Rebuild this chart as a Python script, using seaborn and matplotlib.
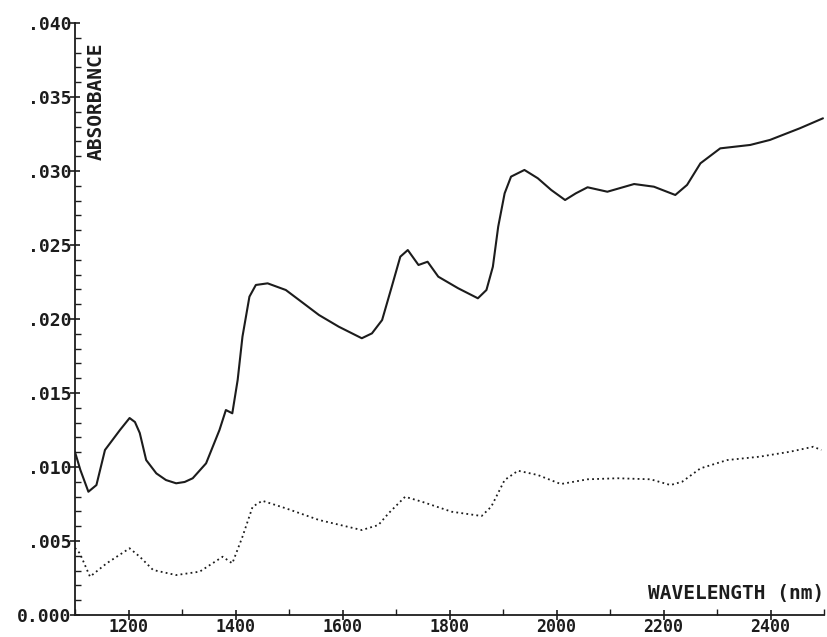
import matplotlib
matplotlib.use("Agg")
import matplotlib.pyplot as plt
from matplotlib.ticker import MultipleLocator, FuncFormatter
import numpy as np
import pandas as pd
import seaborn as sns

# Upper spectrum (solid trace)
upper_nm = [1100, 1110, 1125, 1140, 1156, 1184, 1202, 1212, 1221, 1233, 1252, 1270,
            1289, 1305, 1320, 1345, 1370, 1382, 1394, 1404, 1413, 1426, 1438, 1460,
            1494, 1519, 1556, 1593, 1636, 1655, 1674, 1692, 1708, 1722, 1742, 1759,
            1779, 1816, 1853, 1869, 1881, 1891, 1903, 1915, 1940, 1965, 1990, 2016,
            2036, 2058, 2095, 2145, 2182, 2222, 2244, 2269, 2306, 2362, 2399, 2455,
            2498]
upper_abs = [0.01101, 0.00980, 0.00833, 0.00878, 0.01115, 0.01250, 0.01331, 0.01304,
             0.01230, 0.01047, 0.00957, 0.00912, 0.00890, 0.00899, 0.00924, 0.01025,
             0.01250, 0.01385, 0.01363, 0.01588, 0.01881, 0.02151, 0.02230, 0.02241,
             0.02196, 0.02128, 0.02027, 0.01948, 0.01870, 0.01903, 0.01993, 0.02218,
             0.02421, 0.02466, 0.02365, 0.02387, 0.02286, 0.02208, 0.02140, 0.02196,
             0.02353, 0.02624, 0.02849, 0.02962, 0.03007, 0.02951, 0.02872, 0.02804,
             0.02849, 0.02890, 0.02860, 0.02912, 0.02894, 0.02838, 0.02906, 0.03052,
             0.03153, 0.03176, 0.03210, 0.03289, 0.03356]

# Lower spectrum (dotted trace)
lower_nm = [1100, 1109, 1128, 1159, 1202, 1221, 1246, 1289, 1333, 1376, 1394, 1413,
            1432, 1450, 1494, 1556, 1636, 1667, 1686, 1717, 1748, 1804, 1860, 1878,
            1903, 1928, 1965, 2008, 2058, 2114, 2176, 2213, 2235, 2269, 2319, 2380,
            2436, 2480, 2495]
lower_abs = [0.00453, 0.00417, 0.00259, 0.00349, 0.00451, 0.00394, 0.00304, 0.00270,
             0.00293, 0.00394, 0.00349, 0.00529, 0.00732, 0.00772, 0.00721, 0.00642,
             0.00574, 0.00608, 0.00687, 0.00799, 0.00766, 0.00698, 0.00669, 0.00732,
             0.00912, 0.00975, 0.00946, 0.00885, 0.00917, 0.00924, 0.00917, 0.00878,
             0.00901, 0.00991, 0.01047, 0.01070, 0.01103, 0.01137, 0.01115]

x_ticks = [1200, 1400, 1600, 1800, 2000, 2200, 2400]
y_ticks = [0.000, 0.005, 0.010, 0.015, 0.020, 0.025, 0.030, 0.035, 0.040]

sns.set_style("ticks")
plt.rcParams["font.family"] = ["DejaVu Sans Mono", "DejaVu Sans"]
plt.rcParams["font.weight"] = "bold"

ink = "#1c1c1c"

fig = plt.figure(figsize=(8.28, 6.37), dpi=100)
ax = fig.add_axes([0.0906, 0.0345, 0.9046, 0.9294])

upper_df = pd.DataFrame({"nm": upper_nm, "abs": upper_abs})
lower_df = pd.DataFrame({"nm": lower_nm, "abs": lower_abs})

sns.lineplot(data=upper_df, x="nm", y="abs", ax=ax, color=ink, linewidth=1.5,
             estimator=None, sort=False)
sns.lineplot(data=lower_df, x="nm", y="abs", ax=ax, color=ink, linewidth=1.3,
             linestyle=(0, (1, 1.8)), estimator=None, sort=False)

ax.set_xlim(1100, 2500)
ax.set_ylim(0, 0.040)
ax.set_xticks(x_ticks)
ax.set_yticks(y_ticks)
ax.xaxis.set_minor_locator(MultipleLocator(100))
ax.yaxis.set_minor_locator(MultipleLocator(0.001))


def abs_fmt(v, pos):
    if abs(v) < 1e-9:
        return "0.000"
    return ("%.3f" % v)[1:]


ax.yaxis.set_major_formatter(FuncFormatter(abs_fmt))

sns.despine(ax=ax)
for side in ("left", "bottom"):
    ax.spines[side].set_linewidth(1.3)
    ax.spines[side].set_color(ink)

ax.tick_params(which="major", direction="inout", length=7, width=1.2, colors=ink)
ax.tick_params(which="minor", direction="in", length=4, width=1.0, colors=ink)
ax.tick_params(axis="y", which="major", pad=-1, labelsize=13)
ax.tick_params(axis="x", which="major", pad=-1, labelsize=12)

ax.set_xlabel("")
ax.set_ylabel("")

fig.text(0.116, 0.841, "ABSORBANCE", rotation=90, ha="center", va="center",
         fontsize=14, fontweight="bold", color=ink)
fig.text(0.996, 0.069, "WAVELENGTH (nm)", ha="right", va="center",
         fontsize=14, fontweight="bold", color=ink)

fig.savefig("out.png", dpi=100, facecolor="white")
